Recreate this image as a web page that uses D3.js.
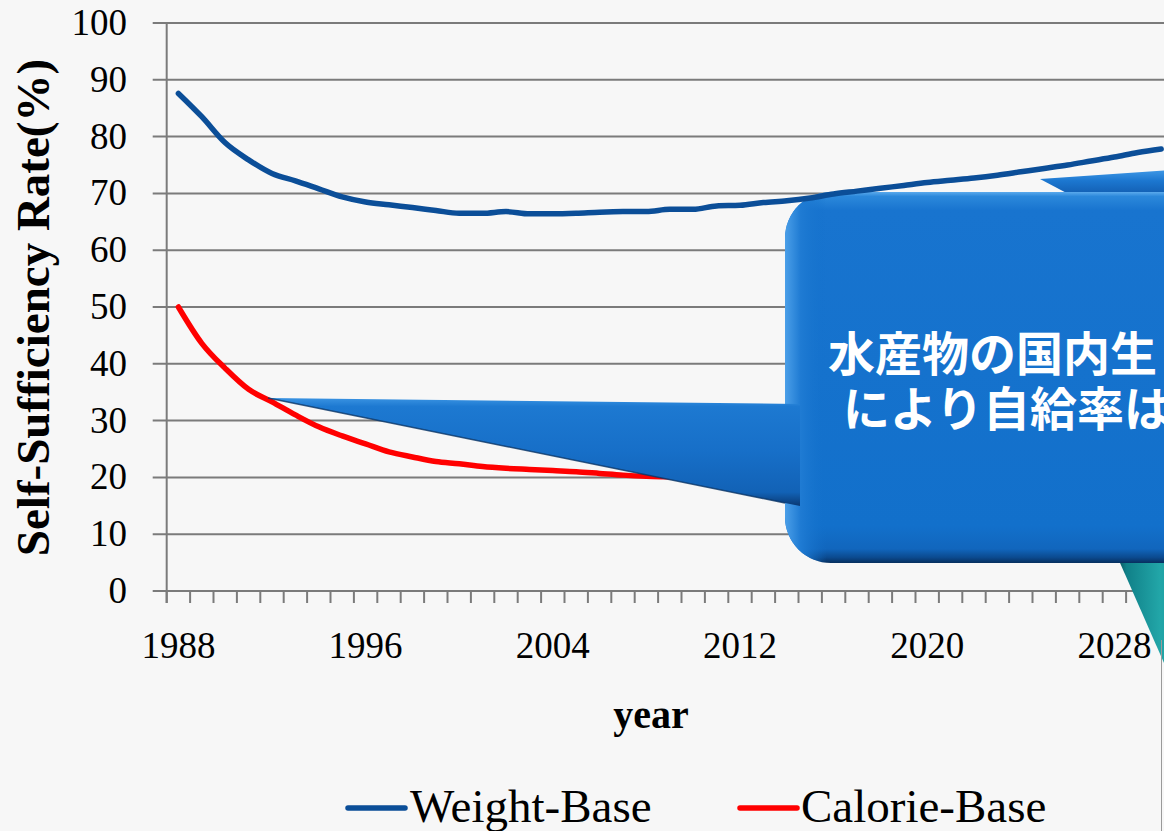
<!DOCTYPE html>
<html>
<head>
<meta charset="utf-8">
<script src="https://cdn.jsdelivr.net/npm/d3@7"></script>
<style>
  html, body { margin: 0; padding: 0; background: #f7f7f7; overflow: hidden; }
  svg { display: block; }
</style>
</head>
<body>
<svg id="chart" width="1164" height="831"></svg>
<script>
// ---- data -------------------------------------------------------------
const years = [1988, 1989, 1990, 1991, 1992, 1993, 1994, 1995, 1996, 1997,
               1998, 1999, 2000, 2001, 2002, 2003, 2004, 2005, 2006, 2007,
               2008, 2009, 2010, 2011, 2012, 2013, 2014, 2015, 2016, 2017,
               2018, 2019, 2020, 2021, 2022, 2023, 2024, 2025, 2026, 2027,
               2028, 2029, 2030];
const labelYears = [1988, 1996, 2004, 2012, 2020, 2028];
const yTicks = [0, 10, 20, 30, 40, 50, 60, 70, 80, 90, 100];

const weightBase = [87.6, 83.5, 78.9, 75.9, 73.5, 72.2, 70.8, 69.4, 68.5, 68.0,
                    67.5, 67.0, 66.5, 66.5, 66.8, 66.4, 66.4, 66.5, 66.7, 66.8,
                    66.8, 67.2, 67.2, 67.8, 67.9, 68.4, 68.7, 69.2, 69.9, 70.4,
                    70.9, 71.4, 71.9, 72.3, 72.7, 73.2, 73.8, 74.4, 75.0, 75.7,
                    76.4, 77.2, 77.8];
const calorieBase = [50.0, 43.6, 39.2, 35.5, 33.3, 31.0, 28.9, 27.3, 25.9, 24.5,
                     23.6, 22.8, 22.4, 21.9, 21.6, 21.4, 21.2, 21.0, 20.7, 20.4,
                     20.2, 20.1, 20.0, 20.1, 20.3, 20.6, 21.0, 21.4, 21.8, 22.3,
                     22.8, 23.2, 23.6, 24.1, 24.5, 25.0, 25.4, 25.8, 26.2, 26.6,
                     27.0, 27.3, 27.7];

const seriesNames = ["Weight-Base", "Calorie-Base"];
const seriesColors = ["#0b4e98", "#ff0000"];
const yTitle = "Self-Sufficiency Rate(%)";
const xTitle = "year";
const calloutLines = ["水産物の国内生", "により自給率は"];

// ---- layout -----------------------------------------------------------
const svg = d3.select("#chart");
const plotLeft = 166.7, bandW = 23.4, plotTop = 23, plotBottom = 591;
const serif = "'Liberation Serif', 'Times New Roman', serif";
const gridColor = "#7b7b7b";

const x = d3.scaleBand().domain(years)
  .range([plotLeft, plotLeft + bandW * years.length]).padding(0);
const y = d3.scaleLinear().domain([0, 100]).range([plotBottom, plotTop]);
const xMid = yr => x(yr) + x.bandwidth() / 2;

// background
svg.append("rect").attr("width", 1164).attr("height", 831).attr("fill", "#f7f7f7");

// ---- gradients for the callout shapes --------------------------------
const defs = svg.append("defs");
function grad(id, attrs, stops) {
  const g = defs.append("linearGradient").attr("id", id);
  Object.entries(attrs).forEach(([k, v]) => g.attr(k, v));
  stops.forEach(([o, c]) => g.append("stop").attr("offset", o).attr("stop-color", c));
}
grad("bodyGrad", { x1: 0, y1: 0, x2: 0, y2: 1 }, [
  [0, "#5aa9ec"], [0.012, "#2b88db"], [0.05, "#1874cf"], [0.9, "#1270cb"],
  [0.962, "#1166bd"], [0.985, "#0b4a8f"], [1, "#072f5e"]]);
grad("bodyEdge", { x1: 0, y1: 0, x2: 1, y2: 0 }, [
  [0, "#4b9fe8"], [0.03, "#1f7bd3"], [0.08, "rgba(18,112,203,0)"], [1, "rgba(18,112,203,0)"]]);
grad("leftTailGrad", { gradientUnits: "userSpaceOnUse", x1: 0, y1: 398, x2: 0, y2: 505 }, [
  [0, "#3a93e2"], [0.08, "#1d79d1"], [0.5, "#176fc8"], [0.88, "#1262b6"], [1, "#0a3c78"]]);
grad("topTailGrad", { gradientUnits: "userSpaceOnUse", x1: 0, y1: 170, x2: 0, y2: 197 }, [
  [0, "#3f98e6"], [0.4, "#1c77d0"], [0.8, "#1463b8"], [1, "#0a3e7a"]]);
grad("tealGrad", { gradientUnits: "userSpaceOnUse", x1: 1117, y1: 0, x2: 1195, y2: 0 }, [
  [0, "#0a4c56"], [0.12, "#108088"], [0.55, "#22a6a8"], [1, "#168e93"]]);

// ---- grid and axes ----------------------------------------------------
const xEnd = x.range()[1];
svg.append("g").selectAll("line").data(yTicks).join("line")
  .attr("x1", plotLeft - 14).attr("x2", xEnd)
  .attr("y1", d => y(d)).attr("y2", d => y(d))
  .attr("stroke", gridColor).attr("stroke-width", 2);

// vertical axis line
svg.append("line").attr("x1", plotLeft).attr("x2", plotLeft)
  .attr("y1", y(100)).attr("y2", y(0) + 12)
  .attr("stroke", gridColor).attr("stroke-width", 2);

// category tick marks sit on the band boundaries
const boundaries = years.map(yr => x(yr)).concat([xEnd]);
svg.append("g").selectAll("line").data(boundaries).join("line")
  .attr("x1", d => d).attr("x2", d => d)
  .attr("y1", y(0)).attr("y2", y(0) + 12)
  .attr("stroke", gridColor).attr("stroke-width", 2);

// y tick labels
svg.append("g").selectAll("text").data(yTicks).join("text")
  .attr("x", 127).attr("y", d => y(d) + 12)
  .attr("text-anchor", "end")
  .attr("font-family", serif).attr("font-size", 37).attr("fill", "#000")
  .text(d => d);

// x tick labels
svg.append("g").selectAll("text").data(labelYears).join("text")
  .attr("x", d => xMid(d)).attr("y", 658)
  .attr("text-anchor", "middle")
  .attr("font-family", serif).attr("font-size", 37).attr("fill", "#000")
  .text(d => d);

// axis titles
svg.append("text")
  .attr("transform", `translate(49, ${(55 + 560) / 2}) rotate(-90)`)
  .attr("text-anchor", "middle")
  .attr("font-family", serif).attr("font-weight", "bold").attr("font-size", 47)
  .attr("fill", "#000").text(yTitle);

svg.append("text")
  .attr("x", 651).attr("y", 728).attr("text-anchor", "middle")
  .attr("font-family", serif).attr("font-weight", "bold").attr("font-size", 40)
  .attr("fill", "#000").text(xTitle);

// ---- series -----------------------------------------------------------
const line = d3.line()
  .x((d, i) => xMid(years[i]))
  .y(d => y(d))
  .curve(d3.curveMonotoneX);

function drawSeries(values, color) {
  svg.append("path").datum(values)
    .attr("d", line)
    .attr("fill", "none").attr("stroke", color)
    .attr("stroke-width", 5.5)
    .attr("stroke-linejoin", "round").attr("stroke-linecap", "round");
}

drawSeries(calorieBase, seriesColors[1]);

// ---- callout ----------------------------------------------------------
// teal pointer at lower right
svg.append("polygon")
  .attr("points", "1117,556 1240,556 1182,704")
  .attr("fill", "url(#tealGrad)");

// pointer reaching up towards the weight-base line
svg.append("polygon")
  .attr("points", "1040,179 1185,169 1185,198 1076,198")
  .attr("fill", "url(#topTailGrad)");

// rounded body
svg.append("rect")
  .attr("x", 785).attr("y", 192).attr("width", 520).attr("height", 371).attr("rx", 46)
  .attr("fill", "url(#bodyGrad)");
svg.append("rect")
  .attr("x", 785).attr("y", 192).attr("width", 520).attr("height", 371).attr("rx", 46)
  .attr("fill", "url(#bodyEdge)");

// long pointer towards the calorie-base line
svg.append("polygon")
  .attr("points", "268,398 800,404 800,506 785,503")
  .attr("fill", "url(#leftTailGrad)");
svg.append("line")
  .attr("x1", 268).attr("y1", 398).attr("x2", 785).attr("y2", 503)
  .attr("stroke", "#0a3566").attr("stroke-width", 1.5).attr("opacity", 0.8);

// callout text
svg.append("g").selectAll("text").data(calloutLines).join("text")
  .attr("x", (d, i) => i === 0 ? 828 : 843)
  .attr("y", (d, i) => i === 0 ? 371 : 426)
  .attr("font-family", "'Noto Sans CJK JP', sans-serif")
  .attr("font-weight", "bold").attr("font-size", 47)
  .attr("fill", "#ffffff")
  .text(d => d);

drawSeries(weightBase, seriesColors[0]);

// ---- legend -----------------------------------------------------------
const legendItems = [
  { name: seriesNames[0], color: seriesColors[0], x0: 348, x1: 405, tx: 410 },
  { name: seriesNames[1], color: seriesColors[1], x0: 740, x1: 797, tx: 801 }
];
const lg = svg.append("g");
lg.selectAll("line").data(legendItems).join("line")
  .attr("x1", d => d.x0).attr("x2", d => d.x1)
  .attr("y1", 808).attr("y2", 808)
  .attr("stroke", d => d.color).attr("stroke-width", 5.5)
  .attr("stroke-linecap", "round");
lg.selectAll("text").data(legendItems).join("text")
  .attr("x", d => d.tx).attr("y", 822)
  .attr("font-family", serif).attr("font-size", 47).attr("fill", "#000")
  .text(d => d.name);

// thin frame edge at the right
svg.append("line").attr("x1", 1161.5).attr("x2", 1161.5)
  .attr("y1", 640).attr("y2", 831)
  .attr("stroke", "#9a9a9a").attr("stroke-width", 1);
</script>
</body>
</html>
